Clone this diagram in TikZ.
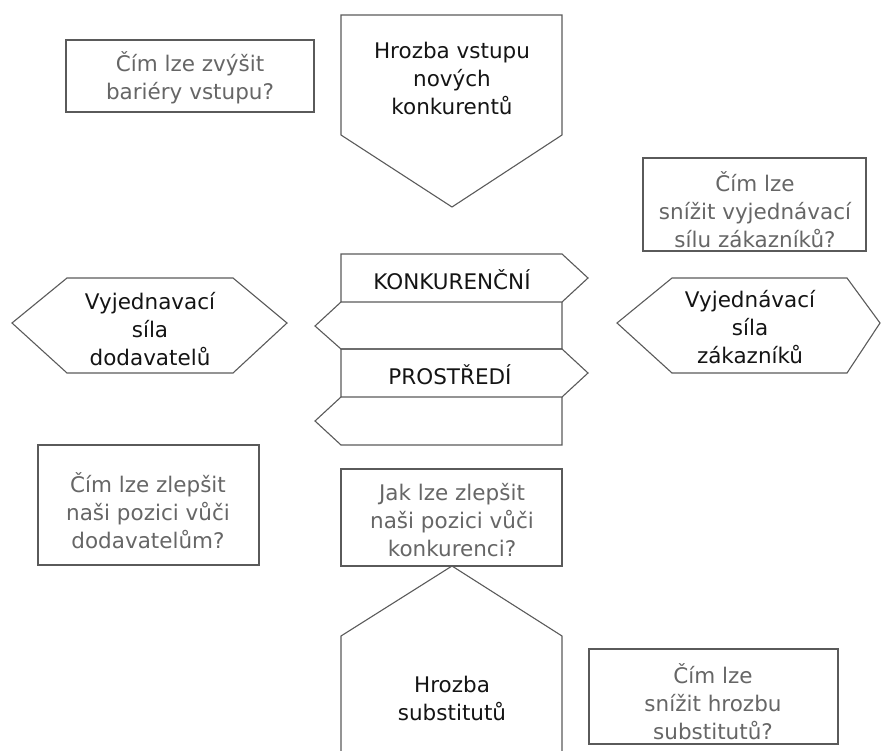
\documentclass[tikz,border=0pt]{standalone}
\usepackage{fontspec}
\setmainfont{DejaVu Sans}
\definecolor{edgegray}{HTML}{5A5A5A}
\definecolor{asktext}{HTML}{666666}
\definecolor{forcetext}{HTML}{141414}
\begin{document}
\begin{tikzpicture}[x=1pt,y=-1pt,
  outline/.style={draw=edgegray,line width=1.1pt,line join=miter},
  asklabel/.style={text=asktext,align=center,inner sep=0pt,
    font=\fontsize{21.5}{28}\selectfont},
  forcelabel/.style={text=forcetext,align=center,inner sep=0pt,
    font=\fontsize{21.5}{28}\selectfont}]
\useasboundingbox (0,0) rectangle (882,751);

% question boxes
\draw[outline] (66,40) rectangle (314,112);
\draw[outline] (643,158) rectangle (866,251);
\draw[outline] (38,445) rectangle (259,565);
\draw[outline] (341,469) rectangle (562,566);
\draw[outline] (589,649) rectangle (838,744);

% threat of new entrants (pentagon pointing down)
\draw[outline] (341,15) -- (562,15) -- (562,135) -- (452,207) -- (341,135) -- cycle;
% threat of substitutes (pentagon pointing up, running off the bottom)
\draw[outline] (341,760) -- (341,636) -- (452,566) -- (562,636) -- (562,760);

% bargaining power hexagons
\draw[outline] (12,323) -- (67,278) -- (233,278) -- (287,323) -- (233,373) -- (67,373) -- cycle;
\draw[outline] (617,323) -- (672,278) -- (847,278) -- (880,323) -- (847,373) -- (672,373) -- cycle;

% competitive rivalry: four stacked arrows
\draw[outline] (341,254) -- (562,254) -- (588,278) -- (562,302) -- (341,302) -- cycle;
\draw[outline] (562,302) -- (562,349) -- (341,349) -- (315,326) -- (341,302);
\draw[outline] (341,349) -- (562,349) -- (588,373) -- (562,397) -- (341,397) -- cycle;
\draw[outline] (562,397) -- (562,445) -- (341,445) -- (315,421) -- (341,397);

% texts
\node[asklabel] (askentry) at (190,78) {Čím lze zvýšit\\bariéry vstupu?};
\node[asklabel] (askbuyers) at (755,210) {Čím lze\\snížit vyjednávací\\sílu zákazníků?};
\node[asklabel] (asksuppliers) at (148,511) {Čím lze zlepšit\\naši pozici vůči\\dodavatelům?};
\node[asklabel] (askrivals) at (452,520) {Jak lze zlepšit\\naši pozici vůči\\konkurenci?};
\node[asklabel] (asksubst) at (713,702) {Čím lze\\snížit hrozbu\\substitutů?};

\node[forcelabel] (entrants) at (452,78) {Hrozba vstupu\\nových\\konkurentů};
\node[forcelabel] (suppliers) at (150,329) {Vyjednavací\\síla\\dodavatelů};
\node[forcelabel] (buyers) at (750,327) {Vyjednávací\\síla\\zákazníků};
\node[forcelabel] (substitutes) at (452,698) {Hrozba\\substitutů};
\node[forcelabel] (rivalry1) at (452,280) {KONKURENČNÍ};
\node[forcelabel] (rivalry2) at (450,375) {PROSTŘEDÍ};
\end{tikzpicture}
\end{document}
